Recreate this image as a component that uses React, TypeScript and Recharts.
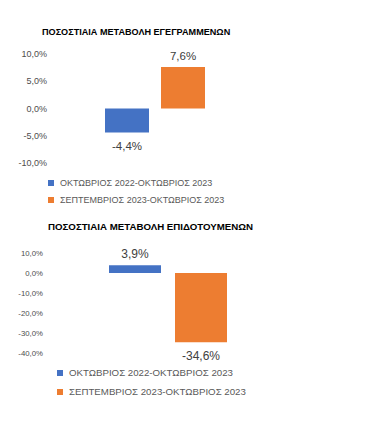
import React from 'react';
import { BarChart, Bar, XAxis, YAxis, Legend, LabelList } from 'recharts';

const seriesNames = ['ΟΚΤΩΒΡΙΟΣ 2022-ΟΚΤΩΒΡΙΟΣ 2023', 'ΣΕΠΤΕΜΒΡΙΟΣ 2023-ΟΚΤΩΒΡΙΟΣ 2023'];
const registeredTitle = 'ΠΟΣΟΣΤΙΑΙΑ ΜΕΤΑΒΟΛΗ ΕΓΕΓΡΑΜΜΕΝΩΝ';
const subsidizedTitle = 'ΠΟΣΟΣΤΙΑΙΑ ΜΕΤΑΒΟΛΗ ΕΠΙΔΟΤΟΥΜΕΝΩΝ';
const registeredValues = [-4.4, 7.6];
const subsidizedValues = [3.9, -34.6];
const registeredTicks = [-10, -5, 0, 5, 10];
const subsidizedTicks = [-40, -30, -20, -10, 0, 10];
const colors = ['#4472C4', '#ED7D31'];

const FONT = '"Liberation Sans", Arial, sans-serif';
const fmt = (v: number) => v.toFixed(1).replace('.', ',') + '%';

type PanelProps = {
  top: number;
  height: number;
  title: string;
  titleX: number;
  titleY: number;
  titleSize: number;
  values: number[];
  ticks: number[];
  yWidth: number;
  marginTop: number;
  marginBottom: number;
  marginRight: number;
  tickSize: number;
  barSize: number;
  barGap: number;
  labelSize: number;
  legendTop: number;
  legendLeft: number;
  legendFont: number;
  legendRow: number;
};

const makeLabel = (size: number) => (props: any) => {
  const { x, y, width, height, value } = props;
  const top = Math.min(y, y + height);
  const bottom = Math.max(y, y + height);
  const cx = x + width / 2;
  const ty = value >= 0 ? top - 11 : bottom + 14;
  return (
    <text x={cx} y={ty} textAnchor="middle" dominantBaseline="central" fontSize={size} fontFamily={FONT} fill="#404040">
      {fmt(value)}
    </text>
  );
};

const makeLegend = (font: number, row: number) => () => (
  <div style={{ fontFamily: FONT, fontSize: font, color: '#595959' }}>
    {seriesNames.map((n, i) => (
      <div key={n} style={{ display: 'flex', alignItems: 'center', height: row, whiteSpace: 'nowrap' }}>
        <span style={{ display: 'inline-block', width: 6, height: 6, background: colors[i], marginRight: 6 }} />
        {n}
      </div>
    ))}
  </div>
);

function Panel(p: PanelProps) {
  const data = [{ name: '', s0: p.values[0], s1: p.values[1] }];
  const min = p.ticks[0];
  const max = p.ticks[p.ticks.length - 1];
  return (
    <div style={{ position: 'absolute', left: 0, top: p.top, width: 374, height: p.height }}>
      <div
        style={{
          position: 'absolute',
          left: p.titleX,
          top: p.titleY,
          fontFamily: FONT,
          fontWeight: 'bold',
          fontSize: p.titleSize,
          color: '#000',
          whiteSpace: 'nowrap',
          lineHeight: 1,
          transform: 'translateY(-50%)',
        }}
      >
        {p.title}
      </div>
      <BarChart
        width={374}
        height={p.height}
        data={data}
        margin={{ top: p.marginTop, bottom: p.marginBottom, left: 0, right: p.marginRight }}
        barGap={p.barGap}
        barSize={p.barSize}
      >
        <XAxis dataKey="name" hide />
        <YAxis
          width={p.yWidth}
          domain={[min, max]}
          ticks={p.ticks}
          interval={0}
          axisLine={false}
          tickLine={false}
          tickSize={0}
          tickMargin={8}
          tickFormatter={fmt}
          tick={{ fontSize: p.tickSize, fontFamily: FONT, fill: '#4d4d4d' }}
        />
        <Legend
          layout="vertical"
          align="center"
          verticalAlign="middle"
          content={makeLegend(p.legendFont, p.legendRow)}
          wrapperStyle={{ top: p.legendTop, left: p.legendLeft, width: 260 }}
        />
        <Bar dataKey="s0" name={seriesNames[0]} fill={colors[0]} isAnimationActive={false}>
          <LabelList dataKey="s0" content={makeLabel(p.labelSize)} />
        </Bar>
        <Bar dataKey="s1" name={seriesNames[1]} fill={colors[1]} isAnimationActive={false}>
          <LabelList dataKey="s1" content={makeLabel(p.labelSize)} />
        </Bar>
      </BarChart>
    </div>
  );
}

export default function App() {
  return (
    <div style={{ position: 'absolute', left: 0, top: 0, width: 374, height: 423, background: '#fff' }}>
      <Panel
        top={0}
        height={210}
        title={registeredTitle}
        titleX={42}
        titleY={33}
        titleSize={9.1}
        values={registeredValues}
        ticks={registeredTicks}
        yWidth={55}
        marginTop={54}
        marginBottom={47}
        marginRight={119}
        tickSize={9}
        barSize={44}
        barGap={12}
        labelSize={11.5}
        legendTop={174}
        legendLeft={48}
        legendFont={9}
        legendRow={17}
      />
      <Panel
        top={210}
        height={213}
        title={subsidizedTitle}
        titleX={48}
        titleY={17}
        titleSize={9.7}
        values={subsidizedValues}
        ticks={subsidizedTicks}
        yWidth={51}
        marginTop={43}
        marginBottom={70}
        marginRight={89}
        tickSize={7.8}
        barSize={52}
        barGap={14}
        labelSize={12}
        legendTop={153}
        legendLeft={57}
        legendFont={9.7}
        legendRow={19}
      />
    </div>
  );
}
